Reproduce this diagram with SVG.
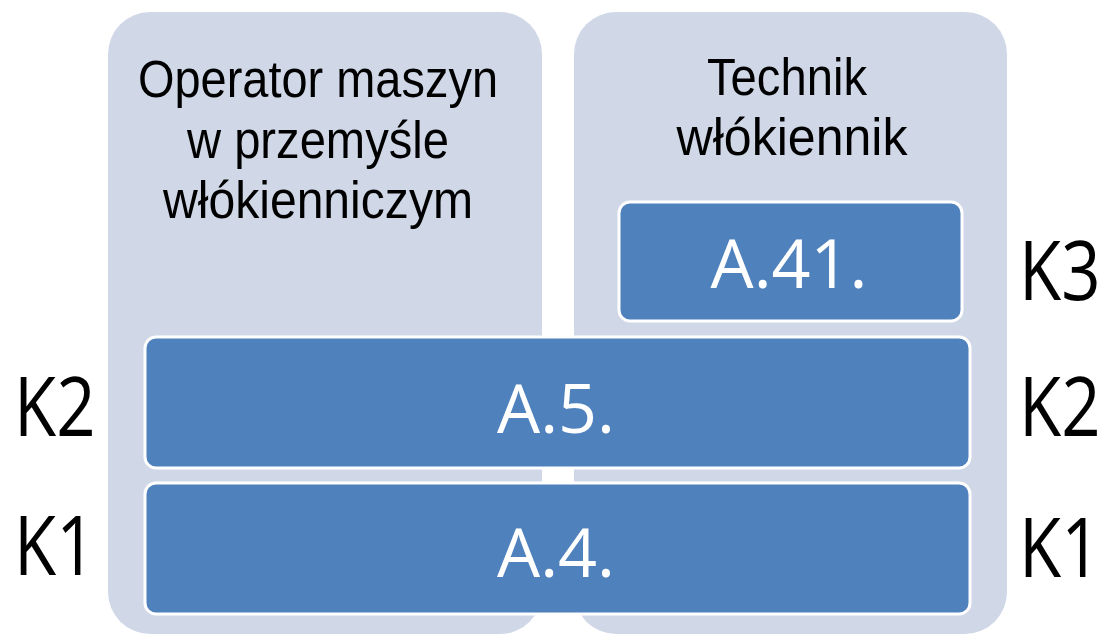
<svg xmlns="http://www.w3.org/2000/svg" width="1111" height="635" viewBox="0 0 1111 635">
<style>
.panel{fill:#D0D8E8;}
.box{fill:#4F81BD;stroke:#FFFFFF;stroke-width:3;}
.hdr{font-family:"Liberation Sans","Open Sans",sans-serif;font-size:51px;fill:#000000;text-anchor:middle;}
.lbl{font-family:"Open Sans","Liberation Sans",sans-serif;font-size:68px;fill:#FFFFFF;text-anchor:middle;}
.k{font-family:"Open Sans","Liberation Sans",sans-serif;font-size:82px;fill:#000000;}
</style>
<rect width="1111" height="635" fill="#FFFFFF"/>
<g id="panel-operator">
<rect class="panel" x="108" y="12" width="434" height="622" rx="42" ry="42"/>
<text class="hdr" x="318" y="97" textLength="360" lengthAdjust="spacingAndGlyphs">Operator maszyn</text>
<text class="hdr" x="318" y="158" textLength="262" lengthAdjust="spacingAndGlyphs">w przemyśle</text>
<text class="hdr" x="318" y="218" textLength="310" lengthAdjust="spacingAndGlyphs">włókienniczym</text>
</g>
<g id="panel-technik">
<rect class="panel" x="574" y="12" width="433" height="622" rx="42" ry="42"/>
<text class="hdr" x="787" y="95" textLength="160" lengthAdjust="spacingAndGlyphs">Technik</text>
<text class="hdr" x="792" y="155" textLength="231" lengthAdjust="spacingAndGlyphs">włókiennik</text>
</g>
<g id="box-a41">
<rect class="box" x="619" y="202" width="343" height="119" rx="11" ry="11"/>
<text class="lbl" x="789" y="288" textLength="157" lengthAdjust="spacingAndGlyphs">A.41.</text>
</g>
<g id="box-a5">
<rect class="box" x="145" y="337" width="825" height="131" rx="11" ry="11"/>
<text class="lbl" x="556" y="433" textLength="118" lengthAdjust="spacingAndGlyphs">A.5.</text>
</g>
<g id="box-a4">
<rect class="box" x="145" y="483" width="825" height="131" rx="11" ry="11"/>
<text class="lbl" x="556" y="577" textLength="118" lengthAdjust="spacingAndGlyphs">A.4.</text>
</g>
<g id="levels">
<text class="k" transform="translate(14,436) scale(0.84,1)">K2</text>
<text class="k" transform="translate(14,575) scale(0.84,1)">K1</text>
<text class="k" transform="translate(1019,300) scale(0.84,1)">K3</text>
<text class="k" transform="translate(1019,436) scale(0.84,1)">K2</text>
<text class="k" transform="translate(1019,577) scale(0.84,1)">K1</text>
</g>
<g id="connectors"></g>
</svg>
